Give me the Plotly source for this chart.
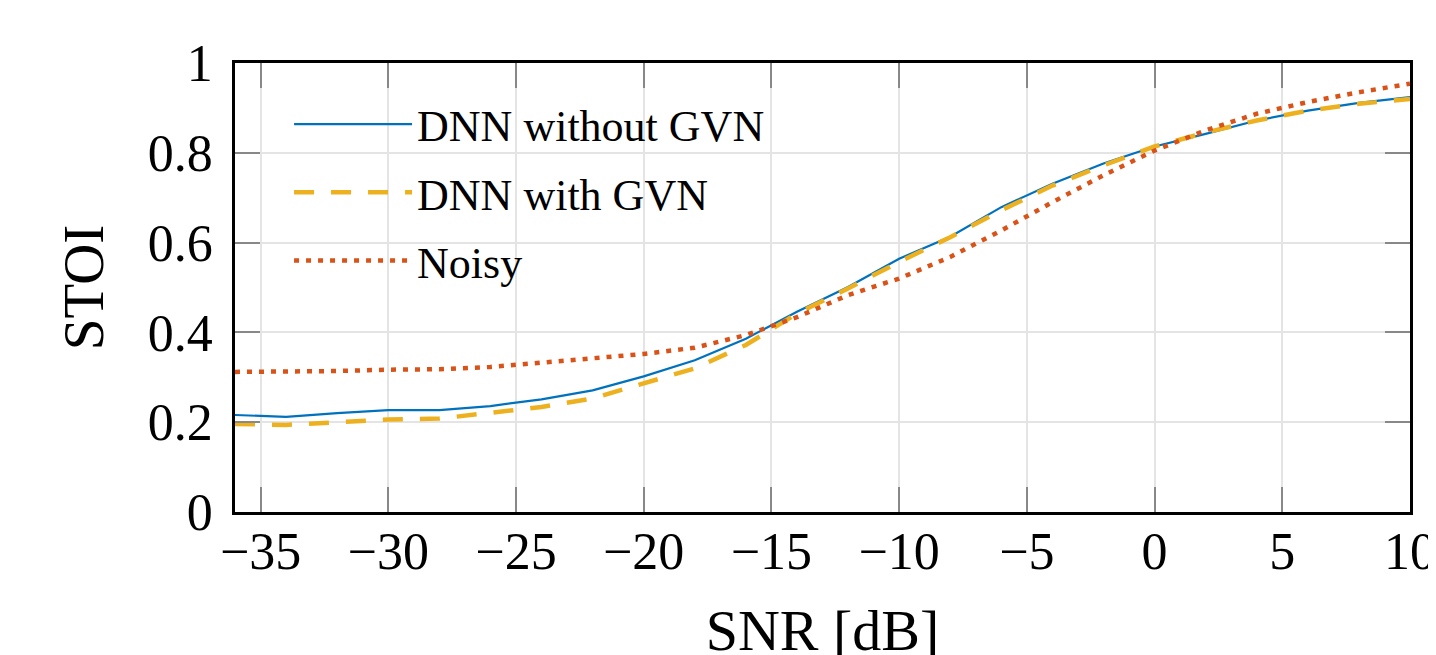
import plotly.graph_objects as go

snr = [-36, -34, -32, -30, -28, -26, -24, -22, -20, -18, -16, -14, -12, -10,
       -8, -6, -4, -2, 0, 2, 4, 6, 8, 10]
dnn_without_gvn = [0.216, 0.212, 0.220, 0.227, 0.227, 0.236, 0.251, 0.271, 0.302, 0.338,
                   0.386, 0.446, 0.501, 0.564, 0.613, 0.679, 0.731, 0.776, 0.814, 0.842,
                   0.872, 0.894, 0.911, 0.924]
dnn_with_gvn = [0.196, 0.194, 0.200, 0.206, 0.208, 0.220, 0.234, 0.253, 0.286, 0.320,
                0.372, 0.442, 0.498, 0.557, 0.612, 0.672, 0.727, 0.772, 0.814, 0.845,
                0.872, 0.894, 0.909, 0.920]
noisy = [0.312, 0.312, 0.314, 0.317, 0.318, 0.323, 0.332, 0.342, 0.352, 0.366,
         0.394, 0.434, 0.483, 0.520, 0.568, 0.627, 0.690, 0.750, 0.805, 0.850,
         0.887, 0.913, 0.935, 0.954]

x_ticks = [-35, -30, -25, -20, -15, -10, -5, 0, 5, 10]
y_ticks = [0, 0.2, 0.4, 0.6, 0.8, 1]
y_tick_labels = ["0", "0.2", "0.4", "0.6", "0.8", "1"]

FONT = "Liberation Serif"

fig = go.Figure()
fig.add_trace(go.Scatter(x=snr, y=dnn_without_gvn, mode="lines", name="DNN without GVN",
                         legendgroup="a",
                         line=dict(color="#0072BD", width=2.2)))
fig.add_trace(go.Scatter(x=snr, y=dnn_with_gvn, mode="lines", name="DNN with GVN",
                         legendgroup="b",
                         line=dict(color="#EDB120", width=4.5, dash="20px,17px")))
fig.add_trace(go.Scatter(x=snr, y=noisy, mode="lines", name="Noisy",
                         legendgroup="c",
                         line=dict(color="#D95319", width=4.5, dash="5px,7px")))

axis_common = dict(
    showline=True, linecolor="black", linewidth=2.5, mirror="ticks",
    ticks="inside", ticklen=25, tickwidth=2, tickcolor="#888888",
    showgrid=True, gridcolor="#e4e4e4", gridwidth=2, zeroline=False,
    tickfont=dict(family=FONT, size=52, color="black"),
)

fig.update_xaxes(range=[-36, 10], tickvals=x_ticks, ticklabelstandoff=-8,
                 title=dict(text="SNR [dB]", font=dict(family=FONT, size=58, color="black"),
                            standoff=42),
                 **axis_common)
fig.update_yaxes(range=[0, 1], tickvals=y_ticks, ticktext=y_tick_labels,
                 ticklabelstandoff=9,
                 title=dict(text="STOI", font=dict(family=FONT, size=57, color="black"),
                            standoff=26),
                 **axis_common)

fig.update_layout(
    width=1436, height=655,
    margin=dict(l=227, r=34, t=55, b=151, autoexpand=False),
    plot_bgcolor="white", paper_bgcolor="white",
    legend=dict(x=0.046, y=0.942, xanchor="left", yanchor="top",
                bgcolor="rgba(0,0,0,0)", borderwidth=0,
                font=dict(family=FONT, size=44, color="black"),
                itemwidth=118, tracegroupgap=8, traceorder="grouped"),
)

fig.write_html("out.html")
